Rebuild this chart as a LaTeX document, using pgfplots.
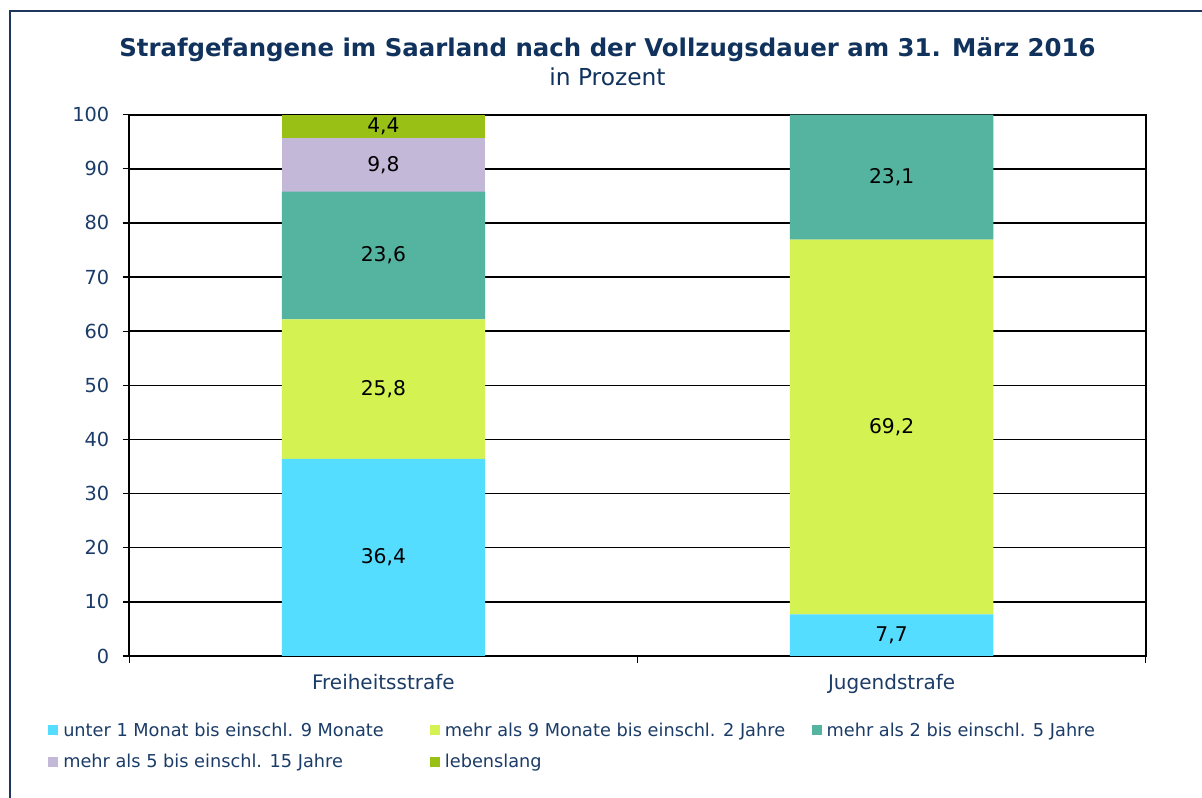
\documentclass[border=0pt]{standalone}
\usepackage{pgfplots}
\pgfplotsset{compat=1.18}
\usepackage{fontspec}
\setmainfont{DejaVu Sans}
\setsansfont{DejaVu Sans}
\definecolor{navy}{RGB}{16,50,92}
\definecolor{ticknavy}{RGB}{28,60,104}
\definecolor{framec}{RGB}{30,55,95}
\definecolor{cA}{RGB}{85,221,255}
\definecolor{cB}{RGB}{212,242,82}
\definecolor{cC}{RGB}{85,180,160}
\definecolor{cD}{RGB}{196,184,216}
\definecolor{cE}{RGB}{153,192,20}
\pgfplotsset{sq/.style={legend image code/.code={\fill[##1] (0pt,-3.75pt) rectangle (7.5pt,3.75pt);}}}
\newcommand{\lgbox}[1]{\makebox[275pt][l]{#1}}
\begin{document}
\begin{tikzpicture}
\useasboundingbox (0,0) rectangle (901.5pt,598.5pt);
\fill[white] (0,0) rectangle (901.5pt,598.5pt);
\draw[framec, line width=1.5pt] (7.5pt,-20pt) -- (7.5pt,590.6pt) -- (920pt,590.6pt);
\node[font=\fontsize{18.3}{22}\bfseries\selectfont, text=navy, anchor=base] at (455.6pt,556pt) {Strafgefangene im Saarland nach der Vollzugsdauer am 31. März 2016};
\node[font=\fontsize{17.5}{21}\selectfont, text=navy, anchor=base] at (455.6pt,534pt) {in Prozent};
\begin{axis}[
  at={(96.975pt,106.5pt)}, anchor=south west,
  scale only axis, width=762.3pt, height=406pt,
  xmin=-0.5, xmax=1.5, ymin=0, ymax=100,
  ybar stacked, bar width=0.4,
  xtick={-0.5,0.5,1.5}, xticklabels={},
  extra x ticks={0,1}, extra x tick labels={Freiheitsstrafe,Jugendstrafe},
  extra x tick style={tick style={draw=none}},
  ytick={0,10,...,100},
  ymajorgrids, grid style={black, line width=1.1pt},
  axis line style={black, line width=1.4pt},
  tick style={black, line width=1pt},
  major tick length=5pt,
  tick align=outside, tick pos=left,
  tick label style={font=\fontsize{14.5}{17}\selectfont, text=ticknavy},
  xticklabel style={font=\fontsize{15}{18}\selectfont, yshift=-5pt},
  yticklabel style={/pgf/number format/assume math mode=true, xshift=-6.5pt},
  point meta=rawy,
  nodes near coords,
  nodes near coords style={font=\fontsize{15.2}{18}\selectfont, text=black, anchor=center,
    /pgf/number format/.cd, fixed, fixed zerofill, precision=1, use comma, assume math mode=true},
  legend columns=3,
  legend style={at={(-0.08,-0.1226)}, anchor=north west, draw=none, fill=none,
    inner sep=0pt, font=\fontsize{13.3}{16}\selectfont, text=ticknavy,
    nodes={inner sep=0pt},
    /tikz/every odd column/.append style={column sep=3.75pt},
    /tikz/every even column/.append style={column sep=0pt},
    row sep=11.75pt},
  legend cell align=left,
]
\addplot[fill=cA, draw=none, sq] coordinates {(0,36.4) (1,7.7)};
\addlegendentry{\lgbox{unter 1 Monat bis einschl. 9 Monate}}
\addplot[fill=cB, draw=none, sq] coordinates {(0,25.8) (1,69.2)};
\addlegendentry{\lgbox{mehr als 9 Monate bis einschl. 2 Jahre}}
\addplot[fill=cC, draw=none, sq] coordinates {(0,23.6) (1,23.1)};
\addlegendentry{\lgbox{mehr als 2 bis einschl. 5 Jahre}}
\addplot[fill=cD, draw=none, sq] coordinates {(0,9.8)};
\addlegendentry{\lgbox{mehr als 5 bis einschl. 15 Jahre}}
\addplot[fill=cE, draw=none, sq] coordinates {(0,4.4)};
\addlegendentry{\lgbox{lebenslang}}
\end{axis}
\end{tikzpicture}
\end{document}
